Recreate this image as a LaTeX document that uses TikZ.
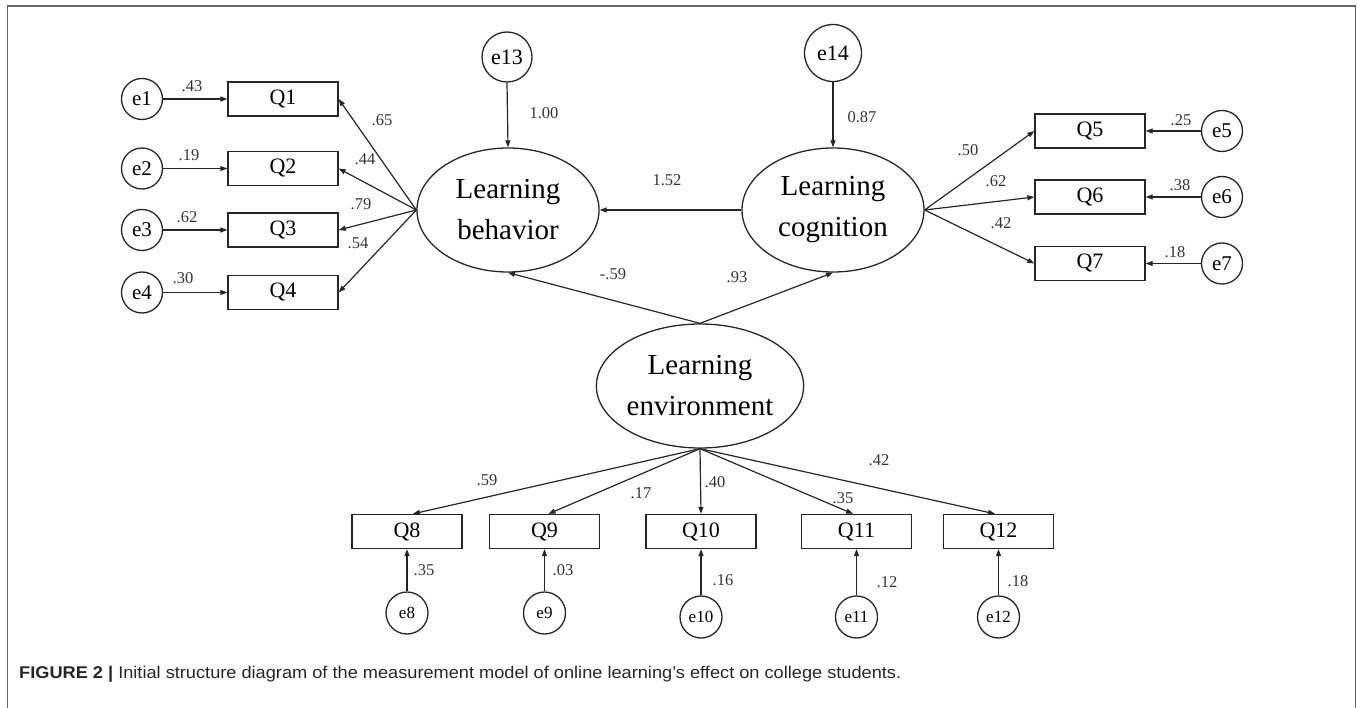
\documentclass[tikz,border=0pt]{standalone}
\usepackage{fontspec}
\setmainfont{Liberation Serif}
\newfontfamily\capfont{Liberation Sans}
\usetikzlibrary{arrows.meta,shapes.geometric}
\begin{document}
\begin{tikzpicture}[x=1pt,y=-1pt,
  ln/.style={line width=1.2pt,draw=black!85},
  arr/.style={ln,-{Triangle[length=7pt,width=5pt]}},
  qbox/.style={draw=black!85,line width=1.3pt,rectangle,minimum width=110pt,minimum height=34pt,inner sep=0pt,font=\fontsize{22}{24}\selectfont},
  ecirc/.style={draw=black!85,line width=1.3pt,circle,minimum size=41pt,inner sep=0pt,font=\fontsize{21}{23}\selectfont},
  ebot/.style={draw=black!85,line width=1.3pt,circle,minimum size=42pt,inner sep=0pt,font=\fontsize{17}{19}\selectfont},
  lat/.style={draw=black!85,line width=1.3pt,ellipse,minimum width=182pt,minimum height=124pt,inner sep=0pt,align=center,font=\fontsize{29}{41}\selectfont},
  lbl/.style={inner sep=0pt,font=\fontsize{16.5}{18}\selectfont,text=black!80}]
\useasboundingbox (0,0) rectangle (1357,708);
\draw[line width=1.6pt,draw=black!60] (7.5,708) -- (7.5,6) -- (1355.5,6) -- (1355.5,708);

% latent variables
\node[lat] (LB) at (508,210) {Learning\\behavior};
\node[lat] (LC) at (833,210) {Learning\\cognition};
\node[lat] (LE) at (700,386) {Learning\\environment};

% disturbances
\node[ecirc,minimum size=50pt,font=\fontsize{22}{24}\selectfont] (e13) at (507,57) {e13};
\node[ecirc,minimum size=57pt,font=\fontsize{22}{24}\selectfont] (e14) at (833,53) {e14};

% left indicators
\node[qbox] (Q1) at (283,99) {Q1};
\node[qbox] (Q2) at (283,168.5) {Q2};
\node[qbox] (Q3) at (283,230) {Q3};
\node[qbox] (Q4) at (283,292.5) {Q4};
\node[ecirc] (e1) at (142,99) {e1};
\node[ecirc] (e2) at (142,168.5) {e2};
\node[ecirc] (e3) at (142,230) {e3};
\node[ecirc] (e4) at (142,292.5) {e4};

% right indicators
\node[qbox] (Q5) at (1090,131) {Q5};
\node[qbox] (Q6) at (1090,197) {Q6};
\node[qbox] (Q7) at (1090,263.5) {Q7};
\node[ecirc] (e5) at (1222,131) {e5};
\node[ecirc] (e6) at (1222,197) {e6};
\node[ecirc] (e7) at (1222,263.5) {e7};

% bottom indicators
\node[qbox] (Q8) at (407,531.5) {Q8};
\node[qbox] (Q9) at (544.5,531.5) {Q9};
\node[qbox] (Q10) at (701,531.5) {Q10};
\node[qbox] (Q11) at (856.5,531.5) {Q11};
\node[qbox] (Q12) at (998.5,531.5) {Q12};
\node[ebot] (e8) at (407,613) {e8};
\node[ebot] (e9) at (544.5,613) {e9};
\node[ebot] (e10) at (701,617) {e10};
\node[ebot] (e11) at (856.5,617) {e11};
\node[ebot] (e12) at (998.5,617) {e12};

% connectors
\foreach \i in {1,2,3,4} {\draw[arr] (e\i.east) -- (Q\i.west);}
\foreach \i in {1,2,3,4} {\draw[arr] (LB.west) -- (Q\i.east);}
\foreach \i in {5,6,7} {\draw[arr] (e\i.west) -- (Q\i.east);}
\foreach \i in {5,6,7} {\draw[arr] (LC.east) -- (Q\i.west);}
\draw[arr] (e13.south) -- (LB.north);
\draw[arr] (e14.south) -- (LC.north);
\draw[arr] (LC.west) -- (LB.east);
\draw[arr] (LE.north) -- (LB.south);
\draw[arr] (LE.north) -- (LC.south);
\draw[arr] (LE.south) -- ([xshift=6pt]Q8.north);
\draw[arr] (LE.south) -- ([xshift=4pt]Q9.north);
\draw[arr] (LE.south) -- (Q10.north);
\draw[arr] (LE.south) -- ([xshift=-3.5pt]Q11.north);
\draw[arr] (LE.south) -- ([xshift=-3.5pt]Q12.north);
\foreach \i in {8,9,10,11,12} {\draw[arr] (e\i.north) -- (Q\i.south);}

% labels
\node[lbl] (l1) at (192,86) {.43};
\node[lbl] (l2) at (189,155) {.19};
\node[lbl] (l3) at (187,217) {.62};
\node[lbl] (l4) at (183,278) {.30};
\node[lbl] (l5) at (382,120) {.65};
\node[lbl] (l6) at (365,159) {.44};
\node[lbl] (l7) at (361,204) {.79};
\node[lbl] (l8) at (358,243) {.54};
\node[lbl] (l9) at (544,113) {1.00};
\node[lbl] (l10) at (862,117) {0.87};
\node[lbl] (l11) at (667,180) {1.52};
\node[lbl] (l12) at (613,274) {-.59};
\node[lbl] (l13) at (737,277) {.93};
\node[lbl] (l14) at (968,150) {.50};
\node[lbl] (l15) at (996,181) {.62};
\node[lbl] (l16) at (1001,223) {.42};
\node[lbl] (l17) at (1181,120) {.25};
\node[lbl] (l18) at (1180,185) {.38};
\node[lbl] (l19) at (1175,252) {.18};
\node[lbl] (l20) at (487,480) {.59};
\node[lbl] (l21) at (641,493) {.17};
\node[lbl] (l22) at (715,482) {.40};
\node[lbl] (l23) at (843,498) {.35};
\node[lbl] (l24) at (879,460) {.42};
\node[lbl] (l25) at (424,570) {.35};
\node[lbl] (l26) at (563,570) {.03};
\node[lbl] (l27) at (723,580) {.16};
\node[lbl] (l28) at (887,582) {.12};
\node[lbl] (l29) at (1018,581) {.18};

% caption
\node[anchor=west,inner sep=0pt,text=black!85,font=\capfont\fontsize{17}{19}\selectfont] (cap) at (19,674)
  {\scalebox{1.07}[1]{\textbf{FIGURE 2 |} Initial structure diagram of the measurement model of online learning’s effect on college students.}};
\end{tikzpicture}
\end{document}
